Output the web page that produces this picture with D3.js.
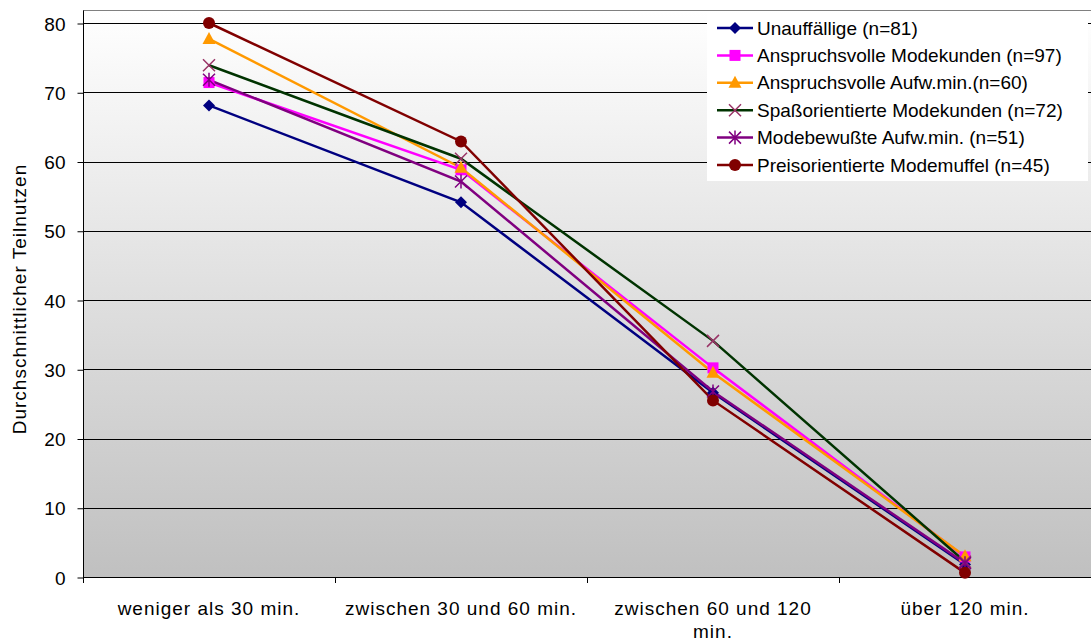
<!DOCTYPE html>
<html>
<head>
<meta charset="utf-8">
<script src="https://cdn.jsdelivr.net/npm/d3@7"></script>
<style>
  body { margin: 0; background: #fff; }
  svg text { font-family: "Liberation Sans", Arial, sans-serif; fill: #000; }
</style>
</head>
<body>
<svg id="chart" width="1091" height="644"></svg>
<script>
// categories and series
const categories = ["weniger als 30 min.", "zwischen 30 und 60 min.", "zwischen 60 und 120 min.", "über 120 min."];
const seriesNames = ["Unauffällige (n=81)", "Anspruchsvolle Modekunden (n=97)", "Anspruchsvolle Aufw.min.(n=60)",
    "Spaßorientierte Modekunden (n=72)", "Modebewußte Aufw.min. (n=51)", "Preisorientierte Modemuffel (n=45)"];
const unauffaellige = [68.1, 54.1, 26.6, 1.8];
const anspruchsvolleKunden = [71.4, 58.8, 30.2, 2.9];
const anspruchsvolleAufw = [77.7, 59.1, 29.5, 3.0];
const spassorientierte = [73.9, 60.4, 34.1, 2.2];
const modebewusste = [71.8, 57.1, 26.8, 2.0];
const preisorientierte = [80.0, 62.9, 25.5, 0.6];
const yTicks = [0, 10, 20, 30, 40, 50, 60, 70, 80];

const lineColors = ["#000080", "#ff00ff", "#ff9900", "#003300", "#800080", "#800000"];
const markerColors = ["#000080", "#ff00ff", "#ff9900", "#993366", "#800080", "#800000"];
const markerTypes = ["diamond", "square", "triangle", "x", "star", "circle"];
const allSeries = [unauffaellige, anspruchsvolleKunden, anspruchsvolleAufw, spassorientierte, modebewusste, preisorientierte];

const svg = d3.select("#chart");
const plotLeft = 83, plotRight = 1091, plotTop = 10, plotBottom = 577;

let x = d3.scaleBand().domain(categories).range([plotLeft, plotRight]);
let y = d3.scaleLinear().domain([0, 80]).range([plotBottom, plotBottom - 8 * 69.25]);

// background gradient
let defs = svg.append("defs");
let grad = defs.append("linearGradient").attr("id", "bg").attr("x1", 0).attr("y1", 0).attr("x2", 0).attr("y2", 1);
grad.append("stop").attr("offset", "0%").attr("stop-color", "#ffffff");
grad.append("stop").attr("offset", "100%").attr("stop-color", "#c0c0c0");

svg.append("rect")
    .attr("x", plotLeft).attr("y", plotTop)
    .attr("width", plotRight - plotLeft).attr("height", plotBottom - plotTop)
    .style("fill", "url(#bg)");
svg.append("line")
    .attr("x1", plotLeft).attr("x2", plotRight).attr("y1", plotTop + 0.5).attr("y2", plotTop + 0.5)
    .style("stroke", "#808080").style("stroke-width", 1);

// gridlines
svg.selectAll(".grid")
    .data(yTicks.filter(d => d > 0))
    .enter().append("line")
    .attr("class", "grid")
    .attr("x1", plotLeft).attr("x2", plotRight)
    .attr("y1", d => Math.round(y(d)) + 0.5).attr("y2", d => Math.round(y(d)) + 0.5)
    .style("stroke", "#000").style("stroke-width", 1);

// y axis
let yAxis = d3.axisLeft(y).tickValues(yTicks).tickSize(6).tickPadding(12);
let gy = svg.append("g").attr("transform", "translate(" + (plotLeft + 0.5) + ",0.5)").call(yAxis);
gy.select(".domain").remove();
gy.append("line").attr("x1", 0).attr("x2", 0).attr("y1", plotTop).attr("y2", plotBottom).style("stroke", "#000");
gy.selectAll(".tick line").style("stroke", "#000");
gy.selectAll(".tick text").style("font-size", "19px").style("font-family", "Liberation Sans, Arial, sans-serif").attr("dy", "0.35em");

// x axis
svg.append("line")
    .attr("x1", plotLeft).attr("x2", plotRight).attr("y1", plotBottom + 0.5).attr("y2", plotBottom + 0.5)
    .style("stroke", "#000");
svg.selectAll(".xtick")
    .data(categories)
    .enter().append("line")
    .attr("class", "xtick")
    .attr("x1", d => Math.round(x(d)) + 0.5).attr("x2", d => Math.round(x(d)) + 0.5)
    .attr("y1", plotBottom).attr("y2", plotBottom + 6)
    .style("stroke", "#000");

svg.selectAll(".xlabel")
    .data(categories)
    .enter().append("text")
    .attr("class", "xlabel")
    .attr("x", d => x(d) + x.bandwidth() / 2)
    .attr("y", 615)
    .attr("text-anchor", "middle")
    .style("font-size", "19px")
    .style("letter-spacing", "1px")
    .each(function(d) {
        let t = d3.select(this);
        if (d === "zwischen 60 und 120 min.") {
            t.append("tspan").attr("x", x(d) + x.bandwidth() / 2).text("zwischen 60 und 120");
            t.append("tspan").attr("x", x(d) + x.bandwidth() / 2).attr("dy", 23).text("min.");
        } else {
            t.text(d);
        }
    });

svg.append("text")
    .attr("transform", "translate(26,299) rotate(-90)")
    .attr("text-anchor", "middle")
    .style("font-size", "19px")
    .style("letter-spacing", "1px")
    .text("Durchschnittlicher Teilnutzen");

// lines
let line = d3.line()
    .x((d, i) => x(categories[i]) + x.bandwidth() / 2)
    .y(d => y(d));

svg.selectAll(".series")
    .data(allSeries)
    .enter().append("path")
    .attr("class", "series")
    .attr("d", line)
    .style("fill", "none")
    .style("stroke", (d, i) => lineColors[i])
    .style("stroke-width", 2.5);

function drawMarker(g, type, color) {
    switch (type) {
    case "diamond":
        g.append("path").attr("d", "M0,-6L6,0L0,6L-6,0Z").style("fill", color);
        break;
    case "square":
        g.append("rect").attr("x", -5.5).attr("y", -5.5).attr("width", 11).attr("height", 11).style("fill", color);
        break;
    case "triangle":
        g.append("path").attr("d", "M0,-7L6.5,5L-6.5,5Z").style("fill", color);
        break;
    case "x":
        g.append("path").attr("d", "M-6,-6L6,6M-6,6L6,-6").style("stroke", color).style("stroke-width", 1.5);
        break;
    case "star":
        g.append("path").attr("d", "M-6,-6L6,6M-6,6L6,-6M0,-7L0,7").style("stroke", color).style("stroke-width", 1.5);
        break;
    case "circle":
        g.append("circle").attr("r", 6).style("fill", color);
        break;
    default:
        break;
    }
}

allSeries.forEach(function(s, si) {
    s.forEach(function(v, i) {
        let g = svg.append("g")
            .attr("transform", "translate(" + (x(categories[i]) + x.bandwidth() / 2) + "," + y(v) + ")");
        drawMarker(g, markerTypes[si], markerColors[si]);
    });
});

// legend
let legend = svg.append("g").attr("transform", "translate(707,13)");
legend.append("rect")
    .attr("x", 0).attr("y", 0).attr("width", 381).attr("height", 168)
    .style("fill", "#fff");
seriesNames.forEach(function(name, i) {
    let cy = 15 + i * 27.4;
    legend.append("line")
        .attr("x1", 10).attr("x2", 46).attr("y1", cy).attr("y2", cy)
        .style("stroke", lineColors[i]).style("stroke-width", 2.5);
    let g = legend.append("g").attr("transform", "translate(28," + cy + ")");
    drawMarker(g, markerTypes[i], markerColors[i]);
    legend.append("text")
        .attr("x", 50).attr("y", cy).attr("dy", "0.35em")
        .style("font-size", "19px")
        .text(name);
});
</script>
</body>
</html>
